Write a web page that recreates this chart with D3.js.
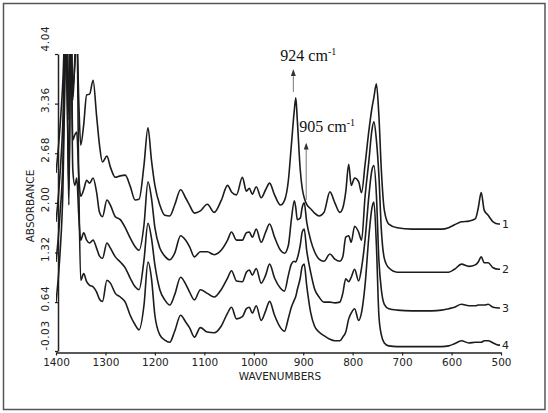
<!DOCTYPE html>
<html>
<head>
<meta charset="utf-8">
<script src="https://cdn.jsdelivr.net/npm/d3@7"></script>
<style>
  body { margin: 0; background: #fff; }
  svg { display: block; }
</style>
</head>
<body>
<div id="chart"></div>
<script>
// wavenumber grid (cm-1), shared by the four spectra
const wavenumbers = [1400,1392,1386,1381,1377,1374,1370,1366,1362,1358,
  1354,1350,1344,1338,1332,1325,1318,1312,1306,1297,
  1290,1280,1270,1260,1250,1240,1232,1222,1214,1207,
  1200,1190,1180,1170,1160,1148,1138,1130,1120,1108,
  1094,1080,1066,1053,1045,1035,1023,1015,1009,1003,
  995,985,976,968,958,946,938,930,924,918,
  915,912,906,902,898,893,885,877,868,858,
  846,836,826,820,814,808,803,796,788,782,
  775,767,761,757,752,747,742,736,727,710,
  680,640,620,606,594,580,565,552,546,540,
  534,526,516,505,502];

// absorbance (values above 4.04 run off the chart)
const trace1 = [2.41,3.03,3.68,4.51,3.82,3.41,4.51,3.57,3.88,4.37,
  3.41,2.79,3.07,3.48,3.49,3.68,3.20,2.79,2.56,2.64,
  2.49,2.35,2.37,2.38,2.23,2.04,2.05,2.52,3.03,2.59,
  2.24,1.97,1.83,1.82,1.97,2.18,2.07,1.97,1.86,1.89,
  1.98,1.87,2.03,2.24,2.15,2.11,2.35,2.16,2.20,2.12,
  2.22,2.07,2.18,2.27,2.11,1.97,2.03,2.31,2.79,3.27,
  3.44,3.14,2.45,2.20,2.07,1.98,1.92,1.86,1.82,1.87,
  2.15,2.00,1.87,1.93,2.15,2.53,2.24,2.34,2.29,2.14,
  2.52,3.00,3.30,3.45,3.63,3.20,2.45,1.90,1.71,1.66,
  1.64,1.64,1.64,1.66,1.70,1.74,1.75,1.78,1.93,2.14,
  1.90,1.83,1.74,1.71,1.71];

const trace2 = [1.74,2.38,3.14,4.51,3.41,2.18,4.51,2.86,2.93,2.97,
  2.38,2.09,2.18,2.31,2.27,2.34,2.15,1.87,1.81,2.04,
  1.97,1.81,1.77,1.66,1.52,1.40,1.35,1.70,2.29,2.07,
  1.66,1.38,1.27,1.22,1.31,1.55,1.49,1.40,1.26,1.33,
  1.33,1.29,1.35,1.49,1.60,1.49,1.49,1.59,1.60,1.53,
  1.64,1.46,1.60,1.71,1.53,1.35,1.31,1.42,1.77,2.03,
  1.93,1.77,1.79,1.94,2.00,1.74,1.49,1.33,1.23,1.20,
  1.30,1.23,1.20,1.26,1.53,1.55,1.46,1.68,1.60,1.49,
  2.08,2.59,3.00,3.11,2.86,2.38,1.63,1.24,1.11,1.05,
  1.05,1.05,1.05,1.05,1.09,1.16,1.13,1.15,1.19,1.26,
  1.18,1.18,1.11,1.09,1.09];

const trace3 = [1.19,1.83,2.59,4.23,3.27,1.97,4.37,2.45,2.24,2.34,
  1.83,1.49,1.59,1.49,1.45,1.49,1.38,1.27,1.24,1.45,
  1.38,1.26,1.19,1.11,0.97,0.85,0.81,1.22,1.72,1.52,
  1.15,0.81,0.67,0.60,0.74,0.98,0.89,0.78,0.67,0.81,
  0.76,0.71,0.81,0.97,1.07,0.93,0.92,1.05,1.08,1.01,
  1.10,0.90,1.01,1.16,0.97,0.83,0.79,1.01,1.16,1.20,
  1.19,1.24,1.42,1.60,1.64,1.35,1.05,0.82,0.71,0.64,
  0.64,0.63,0.64,0.76,0.96,0.92,0.98,1.09,0.93,1.11,
  1.49,2.11,2.45,2.51,2.11,1.22,0.81,0.61,0.55,0.53,
  0.52,0.52,0.53,0.55,0.57,0.61,0.59,0.59,0.60,0.60,
  0.60,0.61,0.57,0.56,0.56];

const trace4 = [0.64,1.29,2.18,3.96,4.51,3.14,4.37,3.41,3.96,4.51,
  2.31,0.94,1.03,0.92,0.87,0.85,0.78,0.68,0.65,0.94,
  0.90,0.76,0.71,0.64,0.46,0.33,0.26,0.60,1.19,0.97,
  0.46,0.19,0.12,0.09,0.24,0.46,0.37,0.29,0.16,0.29,
  0.23,0.22,0.31,0.49,0.57,0.41,0.44,0.55,0.57,0.49,
  0.59,0.39,0.52,0.65,0.46,0.29,0.24,0.42,0.57,0.67,
  0.72,0.81,0.97,1.13,1.16,0.87,0.50,0.31,0.23,0.18,
  0.13,0.11,0.11,0.16,0.23,0.41,0.49,0.55,0.39,0.50,
  0.87,1.56,1.93,2.01,1.42,0.46,0.19,0.08,0.04,0.03,
  0.03,0.03,0.03,0.04,0.07,0.11,0.08,0.09,0.09,0.09,
  0.11,0.11,0.08,0.05,0.05];

const traceLabels = ["1", "2", "3", "4"];
const xTicks = [1400, 1300, 1200, 1100, 1000, 900, 800, 700, 600, 500];
const yTicks = [-0.03, 0.64, 1.32, 2.00, 2.68, 3.36, 4.04];

// peak annotations: arrow from absorbance "from" up to "to"
const peakLabels = ["924", "905"];
const peakWn = [920, 894];
const peakFrom = [3.52, 2.04];
const peakTo = [3.82, 2.81];

const width = 548, height = 413;
const svg = d3.select("#chart").append("svg")
    .attr("width", width)
    .attr("height", height);

// outer frame
svg.append("rect")
    .attr("x", 3.5).attr("y", 3.5)
    .attr("width", 541.5).attr("height", 406)
    .attr("fill", "none")
    .attr("stroke", "#555")
    .attr("stroke-width", 1.5);

const xScale = d3.scaleLinear().domain([1400, 500]).range([56, 501]);
const yScale = d3.scaleLinear().domain([-0.03, 4.04]).range([351, 54]);

const axisFont = "'DejaVu Sans', sans-serif";

// x axis
const xAxis = svg.append("g")
    .attr("transform", "translate(0,352.5)")
    .call(d3.axisBottom(xScale).tickValues(xTicks).tickSize(3).tickSizeOuter(0).tickFormat(d3.format("d")));
xAxis.select(".domain").attr("stroke", "#222").attr("stroke-width", 1.5);
xAxis.selectAll(".tick line").attr("stroke", "#222").attr("stroke-width", 1.2);
xAxis.selectAll(".tick text")
    .attr("font-family", axisFont)
    .attr("font-size", 10.5)
    .attr("fill", "#222");

// y axis, labels turned to read bottom to top
const yAxis = svg.append("g")
    .attr("transform", "translate(58,0)")
    .call(d3.axisLeft(yScale).tickValues(yTicks).tickSize(3).tickSizeOuter(0)
      .tickFormat(d => d3.format(".2f")(d).replace("\u2212", "-")));
yAxis.select(".domain").attr("stroke", "#222").attr("stroke-width", 1.5);
yAxis.selectAll(".tick line").attr("stroke", "#222").attr("stroke-width", 1.2);
yAxis.selectAll(".tick text")
    .attr("font-family", axisFont)
    .attr("font-size", 10.5)
    .attr("letter-spacing", 0.6)
    .attr("fill", "#222")
    .attr("transform", "rotate(-90)")
    .attr("dy", 0)
    .attr("y", -9)
    .attr("x", (d, i) => i === 0 ? 1 : (i === yTicks.length - 1 ? 3 : 4))
    .attr("text-anchor", (d, i) => (i === 0 || i === yTicks.length - 1) ? "start" : "middle");

// axis titles
svg.append("text")
    .attr("transform", "translate(34,206) rotate(-90)")
    .attr("text-anchor", "middle")
    .attr("font-family", axisFont)
    .attr("font-size", 10.5)
    .attr("fill", "#222")
    .text("ABSORBANCE");

svg.append("text")
    .attr("x", 280).attr("y", 380)
    .attr("text-anchor", "middle")
    .attr("font-family", axisFont)
    .attr("font-size", 10.5)
    .attr("fill", "#222")
    .text("WAVENUMBERS");

// spectra, cut at the top of the chart
svg.append("clipPath").attr("id", "plot-clip")
  .append("rect")
    .attr("x", 56).attr("y", 54)
    .attr("width", 452).attr("height", 300);

const line = d3.line()
    .x((d, i) => xScale(wavenumbers[i]))
    .y(d => yScale(d))
    .curve(d3.curveMonotoneX);

const traces = [trace1, trace2, trace3, trace4];

svg.append("g")
    .attr("clip-path", "url(#plot-clip)")
  .selectAll("path")
  .data(traces)
  .enter()
  .append("path")
    .attr("d", line)
    .attr("fill", "none")
    .attr("stroke", "#1c1c1c")
    .attr("stroke-width", 1.6)
    .attr("stroke-linejoin", "round");

svg.selectAll(".trace-label")
  .data(traces)
  .enter()
  .append("text")
    .attr("class", "trace-label")
    .attr("x", xScale(wavenumbers[wavenumbers.length - 1]) + 2)
    .attr("y", d => yScale(d[d.length - 1]))
    .attr("dy", "0.36em")
    .attr("font-family", axisFont)
    .attr("font-size", 11)
    .attr("fill", "#222")
    .text((d, i) => traceLabels[i]);

// peak arrows
svg.append("defs").append("marker")
    .attr("id", "arrow")
    .attr("viewBox", "0 0 8 6")
    .attr("refX", 7).attr("refY", 3)
    .attr("markerWidth", 7).attr("markerHeight", 5)
    .attr("markerUnits", "userSpaceOnUse")
    .attr("orient", "auto")
  .append("path")
    .attr("d", "M0,0 L8,3 L0,6 Z")
    .attr("fill", "#333");

const noteOffset = [{dx: -13, dy: -9}, {dx: -7, dy: -12}];

peakLabels.forEach((lab, i) => {
  const ax = xScale(peakWn[i]);
  svg.append("line")
      .attr("x1", ax).attr("x2", ax)
      .attr("y1", yScale(peakFrom[i]))
      .attr("y2", yScale(peakTo[i]))
      .attr("stroke", "#777")
      .attr("stroke-width", 1)
      .attr("marker-end", "url(#arrow)");

  const t = svg.append("text")
      .attr("x", ax + noteOffset[i].dx)
      .attr("y", yScale(peakTo[i]) + noteOffset[i].dy)
      .attr("font-family", "'Liberation Serif', 'Times New Roman', serif")
      .attr("font-size", 16)
      .attr("fill", "#111");
  t.append("tspan").text(lab + " cm");
  t.append("tspan").attr("font-size", 10).attr("dy", -6).text("-1");
});
</script>
</body>
</html>
